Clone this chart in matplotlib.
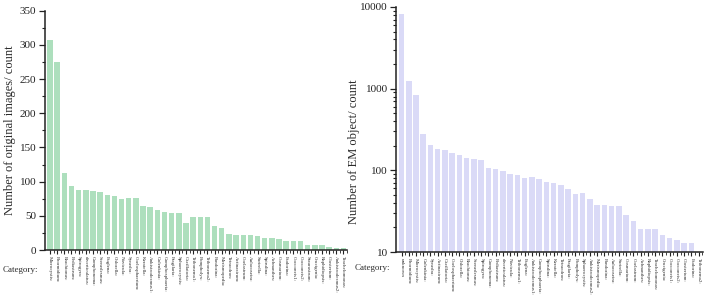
import matplotlib
matplotlib.use("Agg")
import matplotlib.pyplot as plt
from matplotlib.ticker import FixedLocator, MultipleLocator, LogLocator, FuncFormatter, NullFormatter
import numpy as np

left_categories = ["Microcystis:", "Phormidium:", "Brachionus:", "Pediastrum:", "Spirogyra:",
                   "diverticulatus:", "Gomphonema:", "Scenedesmus:", "Euglena:", "Chlorella:",
                   "Navicula:", "Synedra:", "Coelosphaerium:", "Keratella:", "Ankistrodesmus1:",
                   "Golenkinia:", "Gomphosphaeria:", "Fragilaria:", "Sphaerocystis:", "Oscillatoria:",
                   "Tribonema1:", "Pompholyx:", "Tribonema2:", "Pandorina:", "Merismopedia:",
                   "Tetraedron:", "Actinastrum:", "Coelastrum:", "Aulacoseira:", "Surirella:",
                   "Spirulina:", "Achnanthes:", "Cosmarium:", "Eudorina:", "Cocconeis1:",
                   "Cocconeis2:", "Staurastrum:", "Crucigenia:", "Raphidiopsis:", "Closterium:",
                   "Ankistrodesmus2:", "Trachelomonas:"]
left_values = [307, 275, 112, 94, 88, 88, 86, 85, 80, 79,
               74, 76, 76, 64, 63, 58, 56, 54, 54, 40,
               48, 48, 48, 35, 32, 24, 22, 22, 22, 21,
               17, 17, 16, 13, 13, 13, 8, 8, 8, 5,
               3, 3]

right_categories = ["unknown", "Phormidium:", "Microcystis:", "Golenkinia:", "Synedra:",
                    "Actinastrum:", "Oscillatoria:", "Coelosphaerium:", "Chlorella:", "Brachionus:",
                    "Scenedesmus:", "Spirogyra:", "Gomphonema:", "Pediastrum:", "diverticulatus:",
                    "Navicula:", "Tribonema1:", "Euglena:", "Ankistrodesmus1:", "Gomphosphaeria:",
                    "Spirulina:", "Keratella:", "Tetraedron:", "Fragilaria:", "Pompholyx:",
                    "Sphaerocystis:", "Ankistrodesmus2:", "Merismopedia:", "Pandorina:", "Aulacoseira:",
                    "Surirella:", "Cosmarium:", "Coelastrum:", "Achnanthes:", "Raphidiopsis:",
                    "Trachelomonas:", "Crucigenia:", "Cocconeis1:", "Cocconeis2:", "Closterium:",
                    "Eudorina:", "Tribonema2:"]
right_values = [8100, 1240, 835, 278, 206, 181, 177, 164, 154, 143,
                137, 132, 107, 104, 98, 89, 88, 80, 83, 78,
                72, 69, 66, 59, 51, 53, 45, 38, 38, 37,
                37, 28, 24, 19, 19, 19, 16, 15, 14, 13,
                13, 10]

left_ylabel = "Number of original images/ count"
right_ylabel = "Number of EM object/ count"

W, H = 708, 306
plt.rcParams['font.family'] = ['Liberation Serif', 'DejaVu Serif']
fig = plt.figure(figsize=(W / 100, H / 100), dpi=100)

green = "#addfbd"
lavender = "#dadaf7"
txt = "#2b2b2b"


def px_axes(x0, y_top, x1, y_bot):
    return fig.add_axes([x0 / W, 1 - y_bot / H, (x1 - x0) / W, (y_bot - y_top) / H])


def style(ax):
    for s in ["top", "right"]:
        ax.spines[s].set_visible(False)
    for s in ["left", "bottom"]:
        ax.spines[s].set_linewidth(1.1)
        ax.spines[s].set_color("#222222")
    ax.tick_params(axis="y", which="major", direction="out", length=4, width=0.9,
                   labelsize=8, colors="#222222", pad=2)
    ax.tick_params(axis="y", which="minor", direction="out", length=2.5, width=0.8, colors="#222222")
    ax.tick_params(axis="x", which="major", direction="out", length=3, width=0.8,
                   labelsize=3.6, colors="#222222", pad=1.5, labelcolor=txt)
    ax.tick_params(axis="x", which="minor", direction="out", length=1.8, width=0.6, colors="#222222")


# Left chart
ax1 = px_axes(44.5, 10.7, 347, 250)
x1 = np.arange(len(left_categories))
ax1.bar(x1, left_values, width=0.76, color=green, edgecolor="none")
ax1.set_xlim(-0.77, len(left_categories) - 0.5)
ax1.set_ylim(0, 350)
ax1.yaxis.set_major_locator(MultipleLocator(50))
ax1.yaxis.set_minor_locator(MultipleLocator(25))
ax1.set_xticks(x1)
ax1.set_xticklabels(left_categories, rotation=-90)
ax1.xaxis.set_minor_locator(FixedLocator(x1 + 0.5))
style(ax1)
ax1.set_ylabel(left_ylabel, fontsize=9, color=txt)
ax1.yaxis.set_label_coords((16 - 44.5) / (347 - 44.5), 0.5)

# Right chart
ax2 = px_axes(396, 7, 703, 252)
x2 = np.arange(len(right_categories))
ax2.bar(x2, right_values, width=0.76, color=lavender, edgecolor="none")
ax2.set_yscale("log")
ax2.set_ylim(10, 10000)
ax2.set_xlim(-0.76, len(right_categories) - 0.4)
ax2.yaxis.set_major_locator(LogLocator(base=10, numticks=10))
ax2.yaxis.set_minor_locator(LogLocator(base=10, subs=np.arange(2, 10), numticks=10))
ax2.yaxis.set_major_formatter(FuncFormatter(lambda v, p: f"{int(round(v))}"))
ax2.yaxis.set_minor_formatter(NullFormatter())
ax2.set_xticks(x2)
ax2.set_xticklabels(right_categories, rotation=-90)
ax2.xaxis.set_minor_locator(FixedLocator(x2 + 0.5))
style(ax2)
ax2.set_ylabel(right_ylabel, fontsize=9, color=txt)
ax2.yaxis.set_label_coords((360 - 396) / (703 - 396), (252 - 152) / (252 - 7))

fig.text(20 / W, 1 - 270 / H, "Category:", fontsize=6.5, color=txt, ha="center", va="center")
fig.text(372 / W, 1 - 268 / H, "Category:", fontsize=6.5, color=txt, ha="center", va="center")

fig.savefig("out.png", dpi=100)
